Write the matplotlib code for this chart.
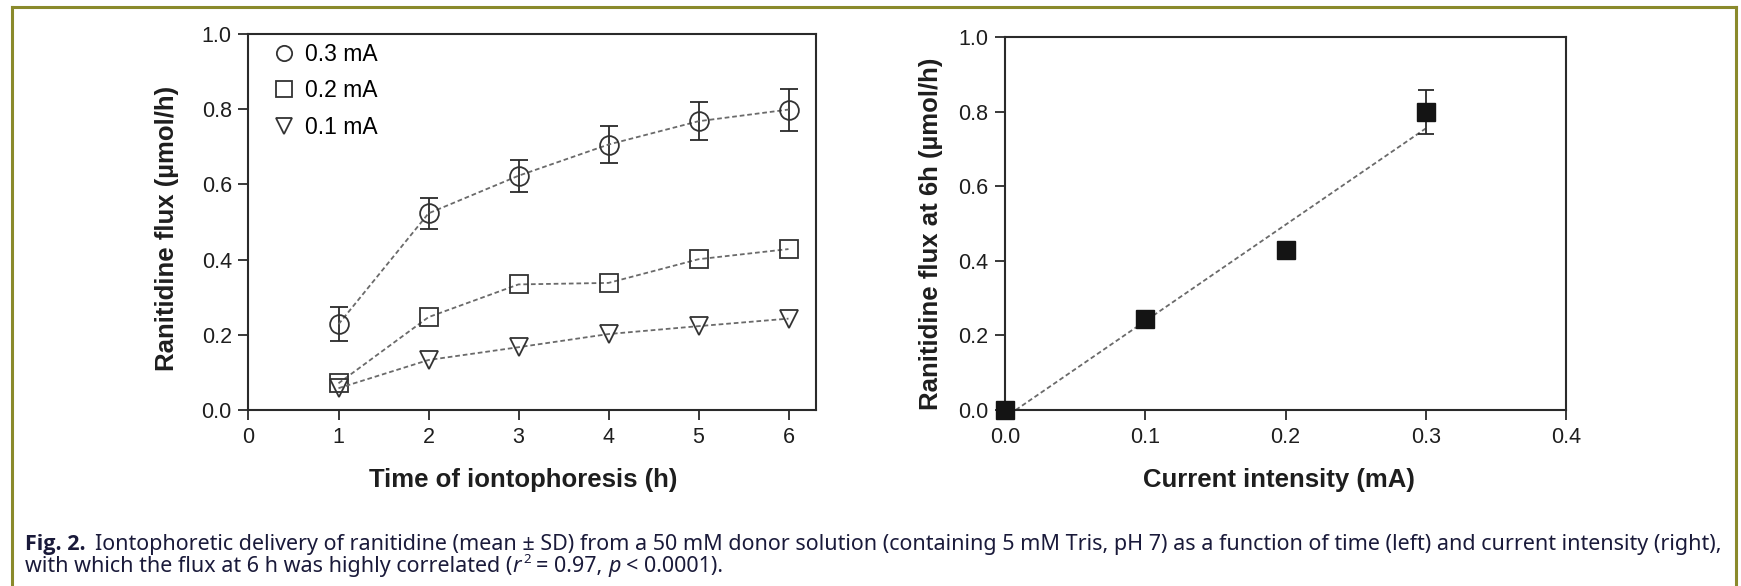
import numpy as np
import matplotlib
matplotlib.use("Agg")
import matplotlib.pyplot as plt
from matplotlib import font_manager
from matplotlib.font_manager import FontProperties
from matplotlib.lines import Line2D

# ---- data -------------------------------------------------------------
hours = [1, 2, 3, 4, 5, 6]
flux_03 = [0.228, 0.523, 0.623, 0.706, 0.768, 0.799]
sd_03 = [0.045, 0.042, 0.042, 0.048, 0.050, 0.056]
flux_02 = [0.071, 0.247, 0.334, 0.338, 0.401, 0.428]
flux_01 = [0.058, 0.133, 0.167, 0.202, 0.223, 0.243]
series_labels = ["0.3 mA", "0.2 mA", "0.1 mA"]

current = [0.0, 0.1, 0.2, 0.3]
flux_6h = [0.0, 0.243, 0.428, 0.799]
sd_6h_03 = 0.059

left_xticks = [0, 1, 2, 3, 4, 5, 6]
right_xticks = [0.0, 0.1, 0.2, 0.3, 0.4]
yticks = [0.0, 0.2, 0.4, 0.6, 0.8, 1.0]


def pick_font(*names):
    available = {f.name for f in font_manager.fontManager.ttflist}
    for n in names:
        if n in available:
            return n
    return "DejaVu Sans"


def has_bold(family):
    for f in font_manager.fontManager.ttflist:
        if f.name != family:
            continue
        w = f.weight
        if isinstance(w, str):
            if w in ("bold", "heavy", "black", "extra bold", "demibold"):
                return True
        elif w >= 600:
            return True
    return False


NARROW = pick_font("Liberation Sans Narrow", "Liberation Sans")
SANS = pick_font("Liberation Sans", "DejaVu Sans")
CAPTION = pick_font("Noto Sans", "Open Sans", "Liberation Sans")
CAPTION_BOLD = next((f for f in (CAPTION, "Open Sans", "Lato", SANS)
                     if has_bold(f)), SANS)

plt.rcParams["font.family"] = [SANS, "DejaVu Sans"]

INK = "#2a2a2a"
DASH = (0, (2.6, 1.6))
LINE_C = "#6a6a6a"
LABEL_SIZE = 18.5
TICK_SIZE = 15.5
CAP_C = "#1a1a3a"

fig = plt.figure(figsize=(17.41, 5.86), dpi=100)
W, H = 1741, 586


def box(x0, x1, y0, y1):
    return [x0 / W, 1 - y1 / H, (x1 - x0) / W, (y1 - y0) / H]


ax1 = fig.add_axes(box(248.5, 815.5, 34, 410))
ax2 = fig.add_axes(box(1005, 1566, 37, 410))

for ax in (ax1, ax2):
    for sp in ax.spines.values():
        sp.set_linewidth(1.5)
        sp.set_color(INK)
    ax.tick_params(direction="out", length=7, width=1.3, color=INK,
                   labelcolor="#1e1e1e", labelsize=TICK_SIZE, pad=5,
                   top=False, right=False)
    ax.set_ylim(0, 1.0)
    ax.set_yticks(yticks)
    ax.set_yticklabels([f"{v:.1f}" for v in yticks], family=NARROW)

# ---- left: flux vs time ----------------------------------------------
ax1.set_xlim(0, 6.3)
ax1.set_xticks(left_xticks)
ax1.set_xticklabels([str(v) for v in left_xticks], family=NARROW)

ax1.errorbar(hours, flux_03, yerr=sd_03, fmt="none", ecolor=INK,
             elinewidth=1.3, capsize=6.5, capthick=1.3, zorder=2)
marker_kw = dict(mfc="none", mec="#333333", mew=1.3, color=LINE_C,
                 lw=1.3, ls=DASH, zorder=3)
ax1.plot(hours, flux_03, marker="o", ms=13.5, **marker_kw)
ax1.plot(hours, flux_02, marker="s", ms=13, **marker_kw)
ax1.plot(hours, flux_01, marker="v", ms=12.5, **marker_kw)

handles = [Line2D([], [], ls="none", marker=m, ms=s, mfc="none",
                  mec="#333333", mew=1.3)
           for m, s in (("o", 11), ("s", 11), ("v", 11))]
ax1.legend(handles, series_labels, loc="upper left", frameon=False,
           prop={"family": NARROW, "size": 16.5}, handlelength=1.0,
           handletextpad=0.4, labelspacing=0.58, borderaxespad=0.0,
           bbox_to_anchor=(0.027, 1.0))

ax1.set_xlabel("Time of iontophoresis (h)", fontsize=LABEL_SIZE,
               fontweight="bold", labelpad=15, color="#1e1e1e", x=0.484)
ax1.set_ylabel("Ranitidine flux (µmol/h)", fontsize=LABEL_SIZE,
               fontweight="bold", labelpad=16, color="#1e1e1e", y=0.483)

# ---- right: flux at 6 h vs current -----------------------------------
ax2.set_xlim(0, 0.4)
ax2.set_xticks(right_xticks)
ax2.set_xticklabels([f"{v:.1f}" for v in right_xticks], family=NARROW)

slope, intercept = np.polyfit(current, flux_6h, 1)
x0 = -intercept / slope
xs = np.array([x0, current[-1]])
ax2.plot(xs, slope * xs + intercept, color=LINE_C, lw=1.3, ls=DASH,
         zorder=2)
ax2.errorbar([current[-1]], [flux_6h[-1]], yerr=[sd_6h_03], fmt="none",
             ecolor=INK, elinewidth=1.3, capsize=5.8, capthick=1.3, zorder=2)
ax2.plot(current, flux_6h, ls="none", marker="s", ms=13.3, mfc="#141414",
         mec="#141414", clip_on=False, zorder=4)

ax2.set_xlabel("Current intensity (mA)", fontsize=LABEL_SIZE,
               fontweight="bold", labelpad=15, color="#1e1e1e", x=0.488)
ax2.set_ylabel("Ranitidine flux at 6h (µmol/h)", fontsize=LABEL_SIZE,
               fontweight="bold", labelpad=11, color="#1e1e1e", y=0.473)

# ---- frame around the figure -----------------------------------------
frame_c = "#8a8a2c"
fx0, fx1, fy = 11.5 / W, 1735.5 / W, 1 - 7 / H
for xa, ya in (([fx0, fx0], [-0.05, fy]), ([fx0, fx1], [fy, fy]),
               ([fx1, fx1], [fy, -0.05])):
    fig.add_artist(Line2D(xa, ya, transform=fig.transFigure, color=frame_c,
                          lw=2.2, solid_capstyle="projecting"))

# ---- caption -----------------------------------------------------------
renderer = fig.canvas.get_renderer()


def text_width(s, fp):
    w, _, _ = renderer.get_text_width_height_descent(s, fp, ismath=False)
    return w


def place_runs(x_px, base_px, runs):
    """Draw a line of caption text made of differently styled runs."""
    artists = []
    x = x_px
    for s, fp, gap, rise in runs:
        x += gap
        t = fig.text(x / W, 1 - (base_px - rise) / H, s, fontproperties=fp,
                     va="baseline", ha="left", color=CAP_C)
        artists.append(t)
        x += text_width(s, fp)
    return artists, x


line1_rest = ("Iontophoretic delivery of ranitidine (mean ± SD) from a 50 mM "
              "donor solution (containing 5 mM Tris, pH 7) as a function of "
              "time (left) and current intensity (right),")


def build_caption(size):
    reg = FontProperties(family=CAPTION, size=size)
    bold = FontProperties(family=CAPTION_BOLD, size=size, weight="bold")
    ital = FontProperties(family=CAPTION, size=size, style="italic")
    sup = FontProperties(family=CAPTION, size=size * 0.62)
    sp = text_width("a a", reg) - text_width("aa", reg)
    a1, end1 = place_runs(25, 550, [("Fig. 2.", bold, 0, 0),
                                    (line1_rest, reg, 1.6 * sp, 0)])
    a2, _ = place_runs(25, 572, [
        ("with which the flux at 6 h was highly correlated (", reg, 0, 0),
        ("r", ital, 0, 0),
        ("2", sup, 2.0, 0.40 * size * 100 / 72),
        ("= 0.97,", reg, sp, 0),
        ("p", ital, sp, 0),
        ("< 0.0001).", reg, sp, 0),
    ])
    return a1 + a2, end1


base = 14.0
arts, end = build_caption(base)
for a in arts:
    a.remove()
cap_size = min(base * (1721 - 25) / (end - 25), 15.6)
build_caption(cap_size)

fig.savefig("out.png", dpi=100)
